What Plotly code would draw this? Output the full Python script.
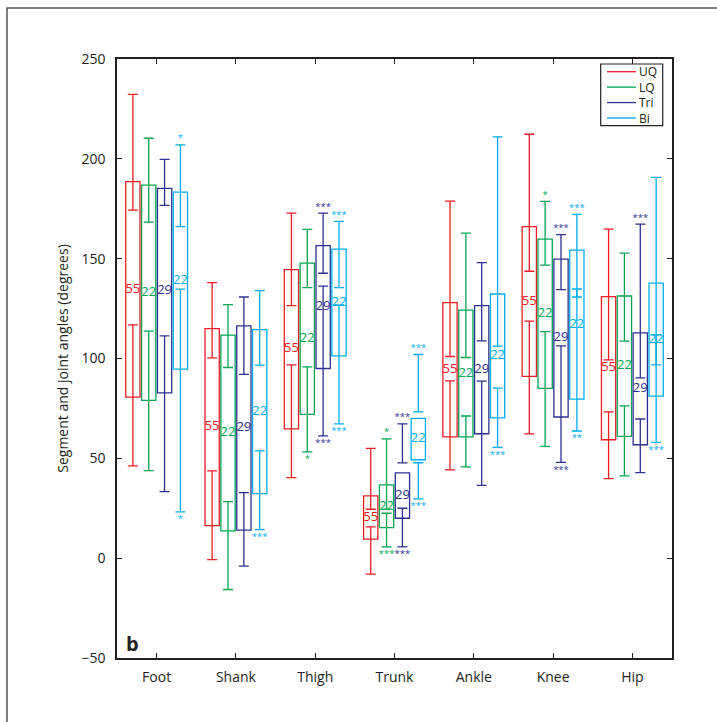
import plotly.graph_objects as go

# Segments / joints along the x axis
categories = ["Foot", "Shank", "Thigh", "Trunk", "Ankle", "Knee", "Hip"]

series_names = ["UQ", "LQ", "Tri", "Bi"]
series_colors = ["#ee1c25", "#00a651", "#2e3192", "#00aeef"]
group_sizes = [55, 22, 29, 22]

# Box extents (degrees)
box_low = {
    "UQ":  [80.7, 16.3, 64.8, 9.5, 60.7, 91.0, 59.3],
    "LQ":  [79.0, 13.7, 72.0, 15.3, 60.7, 85.0, 61.0],
    "Tri": [82.8, 14.0, 95.0, 20.0, 62.3, 70.7, 56.8],
    "Bi":  [94.7, 32.3, 101.3, 49.3, 70.3, 79.7, 81.2],
}
box_high = {
    "UQ":  [188.6, 115.0, 144.5, 31.2, 128.0, 166.0, 131.0],
    "LQ":  [186.8, 111.7, 147.8, 36.7, 124.2, 159.8, 131.3],
    "Tri": [185.2, 116.3, 156.5, 42.7, 126.5, 149.8, 112.8],
    "Bi":  [183.3, 114.5, 154.8, 70.0, 132.3, 154.3, 137.8],
}

# Upper error bar: inner tick and outer cap
upper_bar_low = {
    "UQ":  [174.3, 100.3, 126.5, 24.5, 101.0, 143.7, 99.3],
    "LQ":  [168.3, 95.5, 135.5, 24.5, 100.5, 146.8, 108.7],
    "Tri": [176.7, 92.0, 142.7, 47.7, 108.8, 134.5, 90.3],
    "Bi":  [166.0, 96.7, 135.5, 73.3, 106.2, 130.8, 96.8],
}
upper_bar_high = {
    "UQ":  [232.3, 138.0, 172.8, 55.0, 178.8, 212.3, 164.8],
    "LQ":  [210.3, 127.0, 164.7, 59.7, 162.8, 178.7, 152.8],
    "Tri": [199.7, 130.8, 172.8, 67.3, 148.0, 162.0, 167.3],
    "Bi":  [207.0, 134.0, 168.7, 102.0, 211.0, 172.2, 190.7],
}

# Lower error bar: inner tick and outer cap
lower_bar_high = {
    "UQ":  [116.8, 43.7, 96.8, 15.7, 88.8, 118.7, 73.3],
    "LQ":  [113.7, 28.3, 95.8, 22.5, 71.2, 113.5, 76.3],
    "Tri": [111.3, 32.8, 136.2, 25.0, 88.7, 106.3, 69.7],
    "Bi":  [134.7, 53.7, 126.8, 47.8, 85.2, 134.8, 111.8],
}
lower_bar_low = {
    "UQ":  [46.2, -0.7, 40.3, -8.0, 44.2, 62.2, 39.8],
    "LQ":  [43.8, -15.7, 53.2, 5.7, 45.7, 56.0, 41.2],
    "Tri": [33.3, -4.0, 61.2, 5.7, 36.5, 48.0, 42.8],
    "Bi":  [23.2, 14.3, 67.3, 29.7, 55.5, 63.7, 58.0],
}

# Significance markers above the upper cap and below the lower cap
stars_above = {
    "UQ":  ["", "", "", "", "", "", ""],
    "LQ":  ["", "", "", "*", "", "*", ""],
    "Tri": ["", "", "***", "***", "", "***", "***"],
    "Bi":  ["*", "", "***", "***", "", "***", ""],
}
stars_below = {
    "UQ":  ["", "", "", "", "", "", ""],
    "LQ":  ["", "", "*", "***", "", "", ""],
    "Tri": ["", "", "***", "***", "", "***", ""],
    "Bi":  ["*", "***", "***", "***", "***", "**", "***"],
}

FONT = "Open Sans, Noto Sans, sans-serif"
INK = "#231f20"
series_offsets = [-0.3, -0.1, 0.1, 0.3]
box_width = 0.18

W, H = 717, 722
M_L, M_R, M_T, M_B = 117, 45, 59, 64
PLOT_W, PLOT_H = W - M_L - M_R, H - M_T - M_B


def px_x(px):
    """Horizontal pixel position -> paper coordinate."""
    return (px - M_L) / PLOT_W


def px_y(py):
    """Vertical pixel position (from top) -> paper coordinate."""
    return (H - M_B - py) / PLOT_H


fig = go.Figure()

for name, color, n, off in zip(series_names, series_colors, group_sizes, series_offsets):
    xs = [i + 1 + off for i in range(len(categories))]
    lo, hi = box_low[name], box_high[name]

    # Boxes
    fig.add_trace(go.Bar(
        x=xs, y=[h - l for h, l in zip(hi, lo)], base=lo, width=box_width,
        marker=dict(color="rgba(0,0,0,0)", line=dict(color=color, width=1.3)),
        showlegend=False, hoverinfo="skip",
    ))

    # Upper and lower error bars, each with caps at both ends
    seg_lo = upper_bar_low[name] + lower_bar_low[name]
    seg_hi = upper_bar_high[name] + lower_bar_high[name]
    fig.add_trace(go.Scatter(
        x=xs + xs,
        y=[(a + b) / 2 for a, b in zip(seg_lo, seg_hi)],
        mode="markers",
        marker=dict(size=0.1, color="rgba(0,0,0,0)"),
        error_y=dict(type="data", symmetric=True,
                     array=[(b - a) / 2 for a, b in zip(seg_lo, seg_hi)],
                     color=color, thickness=1.3, width=5),
        showlegend=False, hoverinfo="skip",
    ))

    # Group size printed in the middle of each box
    fig.add_trace(go.Scatter(
        x=xs, y=[(a + b) / 2 for a, b in zip(lo, hi)],
        mode="text", text=[str(n)] * len(xs), textposition="middle center",
        textfont=dict(family=FONT, size=13, color=color),
        showlegend=False, hoverinfo="skip",
    ))

    # Significance stars
    fig.add_trace(go.Scatter(
        x=xs + xs,
        y=[c + 3.0 for c in upper_bar_high[name]] + [c - 4.0 for c in lower_bar_low[name]],
        mode="text", text=stars_above[name] + stars_below[name],
        textposition="middle center",
        textfont=dict(family=FONT, size=9.5, color=color),
        showlegend=False, hoverinfo="skip",
    ))

# Compact boxed legend in the upper-right corner of the axes
LEG_TOP, LEG_BOTTOM = 64.0, 125.7
legend_shapes = [dict(type="rect", xref="paper", yref="paper",
                      x0=px_x(600.7), x1=px_x(662.7), y0=px_y(LEG_BOTTOM), y1=px_y(LEG_TOP),
                      line=dict(color=INK, width=1.2), fillcolor="white", layer="above")]
row_pitch = (LEG_BOTTOM - LEG_TOP) / len(series_names)
for k, color in enumerate(series_colors):
    ry = LEG_TOP + row_pitch * (k + 0.5)
    legend_shapes.append(dict(type="line", xref="paper", yref="paper",
                              x0=px_x(607), x1=px_x(636), y0=px_y(ry), y1=px_y(ry),
                              line=dict(color=color, width=1.3), layer="above"))
legend_annotations = [dict(text="<br>".join(series_names), xref="paper", yref="paper",
                           x=px_x(638), y=px_y((LEG_TOP + LEG_BOTTOM) / 2 + 0.5),
                           xanchor="left", yanchor="middle", align="left",
                           showarrow=False, borderpad=0,
                           font=dict(family=FONT, size=12, color=INK))]

axis_common = dict(
    showline=True, linecolor=INK, linewidth=1.6, mirror="ticks",
    ticks="inside", ticklen=5, tickwidth=1, tickcolor=INK,
    showgrid=False, zeroline=False,
    tickfont=dict(family=FONT, size=14, color=INK),
)

fig.update_layout(
    width=W, height=H,
    margin=dict(l=M_L, r=M_R, t=M_T, b=M_B),
    paper_bgcolor="white", plot_bgcolor="white",
    font=dict(family=FONT, size=13, color=INK),
    xaxis=dict(range=[0.5, 7.5], tickvals=list(range(1, len(categories) + 1)),
               ticktext=categories, ticklabelstandoff=5, **axis_common),
    yaxis=dict(range=[-50, 250], dtick=50, ticklabelstandoff=7,
               title=dict(text="Segment and joint angles (degrees)",
                          font=dict(family=FONT, size=14, color=INK), standoff=9),
               **axis_common),
    showlegend=False,
    annotations=[dict(text="<b>b</b>", xref="paper", yref="paper",
                      x=0.012, y=0.025, xanchor="left", yanchor="middle",
                      showarrow=False, font=dict(family=FONT, size=20, color=INK))]
                + legend_annotations,
    shapes=[dict(type="rect", xref="paper", yref="paper",
                 x0=px_x(7), x1=px_x(735), y0=px_y(740), y1=px_y(8),
                 line=dict(color="#555555", width=1.5), fillcolor="rgba(0,0,0,0)",
                 layer="below")] + legend_shapes,
)

fig.write_html("out.html")
